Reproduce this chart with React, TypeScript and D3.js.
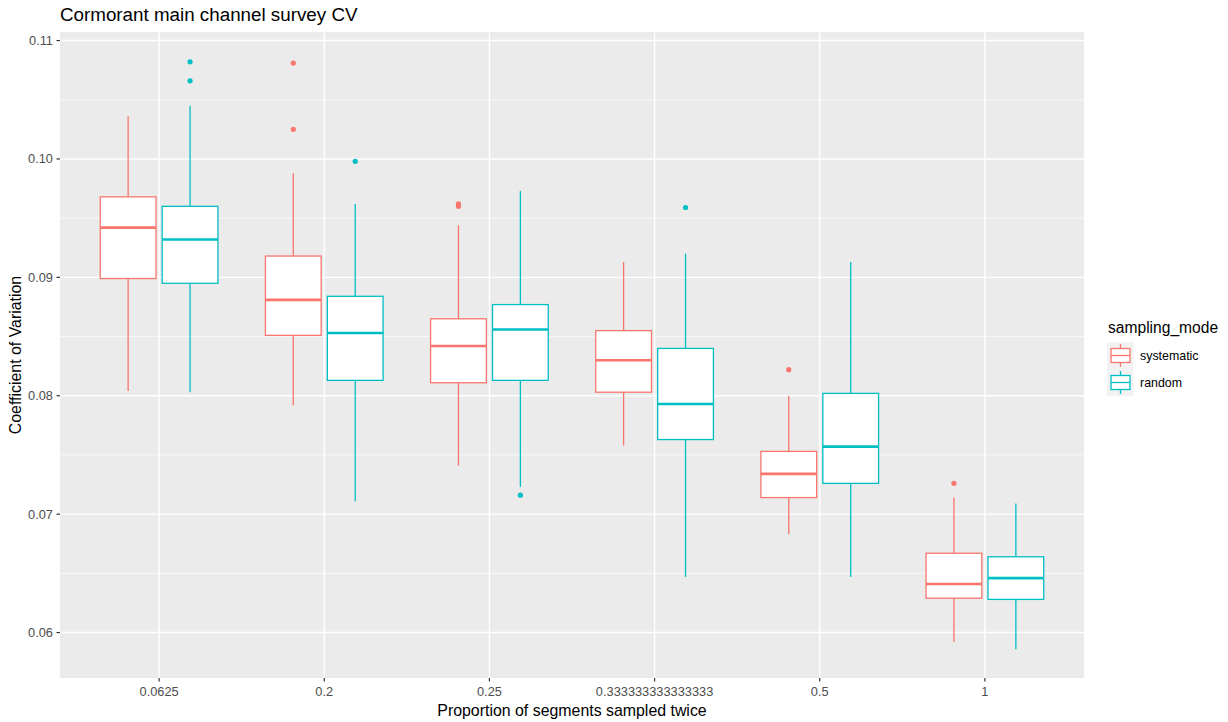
import React from "react";
import * as d3 from "d3";

const categories = ["0.0625", "0.2", "0.25", "0.333333333333333", "0.5", "1"];
const seriesNames = ["systematic", "random"];
const seriesColors = ["#F8766D", "#00BFC4"];

// systematic
const sysLow = [0.0804, 0.0792, 0.0741, 0.0758, 0.0683, 0.0592];
const sysQ1 = [0.0899, 0.0851, 0.0811, 0.0803, 0.0714, 0.0629];
const sysMed = [0.0942, 0.0881, 0.0842, 0.0830, 0.0734, 0.0641];
const sysQ3 = [0.0968, 0.0918, 0.0865, 0.0855, 0.0753, 0.0667];
const sysHigh = [0.1036, 0.0988, 0.0944, 0.0913, 0.0800, 0.0714];
const sysOut = [[], [0.1081, 0.1025], [0.0960, 0.0962], [], [0.0822], [0.0726]];

// random
const rndLow = [0.0803, 0.0711, 0.0723, 0.0647, 0.0647, 0.0586];
const rndQ1 = [0.0895, 0.0813, 0.0813, 0.0763, 0.0726, 0.0628];
const rndMed = [0.0932, 0.0853, 0.0856, 0.0793, 0.0757, 0.0646];
const rndQ3 = [0.0960, 0.0884, 0.0877, 0.0840, 0.0802, 0.0664];
const rndHigh = [0.1045, 0.0962, 0.0973, 0.0920, 0.0913, 0.0709];
const rndOut = [[0.1082, 0.1066], [0.0998], [0.0716], [0.0959], [], []];

const yTicks = [0.06, 0.07, 0.08, 0.09, 0.1, 0.11];
const yMinor = [0.065, 0.075, 0.085, 0.095, 0.105];

const FONT = "'Liberation Sans', Arial, Helvetica, sans-serif";

export default function App() {
  const W = 1228, H = 722;
  const pL = 60, pR = 1084, pT = 32, pB = 678;
  const x = d3.scalePoint<string>().domain(categories).range([pL, pR]).padding(0.6);
  const y = d3.scaleLinear().domain([0.05612, 0.11068]).range([pB + 0.5, pT + 0.5]);
  const step = x.step();
  const boxW = (step * 0.75) / 2 * 0.9;
  const offs = [-(step * 0.75) / 4, (step * 0.75) / 4];

  const series = [
    { low: sysLow, q1: sysQ1, med: sysMed, q3: sysQ3, high: sysHigh, out: sysOut },
    { low: rndLow, q1: rndQ1, med: rndMed, q3: rndQ3, high: rndHigh, out: rndOut },
  ];

  const fmt = (v: number) => d3.format(".2f")(v);

  return (
    <svg width={W} height={H} style={{ position: "absolute", left: 0, top: 0, background: "#fff" }} fontFamily={FONT}>
      <rect x={0} y={0} width={W} height={H} fill="#fff" />
      <text x={60} y={21} fontSize={18.8} fill="#000">Cormorant main channel survey CV</text>
      <rect x={pL} y={pT} width={pR - pL} height={pB - pT} fill="#EBEBEB" />
      {yMinor.map((t) => (
        <line key={"m" + t} x1={pL} x2={pR} y1={y(t)} y2={y(t)} stroke="#fff" strokeWidth={0.7} />
      ))}
      {yTicks.map((t) => (
        <line key={"g" + t} x1={pL} x2={pR} y1={y(t)} y2={y(t)} stroke="#fff" strokeWidth={1.4} />
      ))}
      {categories.map((c) => (
        <line key={"v" + c} x1={x(c)} x2={x(c)} y1={pT} y2={pB} stroke="#fff" strokeWidth={1.4} />
      ))}
      {series.map((s, si) =>
        categories.map((c, ci) => {
          const cx = (x(c) as number) + offs[si];
          const col = seriesColors[si];
          return (
            <g key={si + "-" + ci}>
              <line x1={cx} x2={cx} y1={y(s.high[ci])} y2={y(s.q3[ci])} stroke={col} strokeWidth={1.3} />
              <line x1={cx} x2={cx} y1={y(s.q1[ci])} y2={y(s.low[ci])} stroke={col} strokeWidth={1.3} />
              <rect x={cx - boxW / 2} y={y(s.q3[ci])} width={boxW} height={y(s.q1[ci]) - y(s.q3[ci])} fill="#fff" stroke={col} strokeWidth={1.3} />
              <line x1={cx - boxW / 2} x2={cx + boxW / 2} y1={y(s.med[ci])} y2={y(s.med[ci])} stroke={col} strokeWidth={2.6} />
              {s.out[ci].map((o, oi) => (
                <circle key={oi} cx={cx} cy={y(o)} r={2.6} fill={col} />
              ))}
            </g>
          );
        })
      )}
      {yTicks.map((t) => (
        <g key={"t" + t}>
          <line x1={pL - 3.5} x2={pL} y1={y(t)} y2={y(t)} stroke="#333" strokeWidth={1.2} />
          <text x={pL - 7} y={y(t)} dy="0.35em" textAnchor="end" fontSize={12.8} fill="#4D4D4D">{fmt(t)}</text>
        </g>
      ))}
      {categories.map((c) => (
        <g key={"xt" + c}>
          <line x1={x(c)} x2={x(c)} y1={pB} y2={pB + 3.5} stroke="#333" strokeWidth={1.2} />
          <text x={x(c)} y={pB + 18} textAnchor="middle" fontSize={12.8} fill="#4D4D4D">{c}</text>
        </g>
      ))}
      <text x={(pL + pR) / 2} y={716} textAnchor="middle" fontSize={15.9} fill="#000">Proportion of segments sampled twice</text>
      <text transform={`translate(21, ${(pT + pB) / 2}) rotate(-90)`} textAnchor="middle" fontSize={15.9} fill="#000">Coefficient of Variation</text>
      <text x={1108} y={333} fontSize={15.6} fill="#000">sampling_mode</text>
      {seriesNames.map((n, i) => {
        const ky = 342 + i * 27;
        const cx = 1120.5;
        const col = seriesColors[i];
        return (
          <g key={n}>
            <rect x={1107} y={ky} width={26.5} height={27} fill="#F2F2F2" />
            <line x1={cx} x2={cx} y1={ky + 2} y2={ky + 25} stroke={col} strokeWidth={1.3} />
            <rect x={1111} y={ky + 6.5} width={19} height={14} fill="#fff" stroke={col} strokeWidth={1.3} />
            <line x1={1111} x2={1130} y1={ky + 13.5} y2={ky + 13.5} stroke={col} strokeWidth={1.3} />
            <text x={1140} y={ky + 13.5} dy="0.35em" fontSize={12.4} fill="#000">{n}</text>
          </g>
        );
      })}
    </svg>
  );
}
